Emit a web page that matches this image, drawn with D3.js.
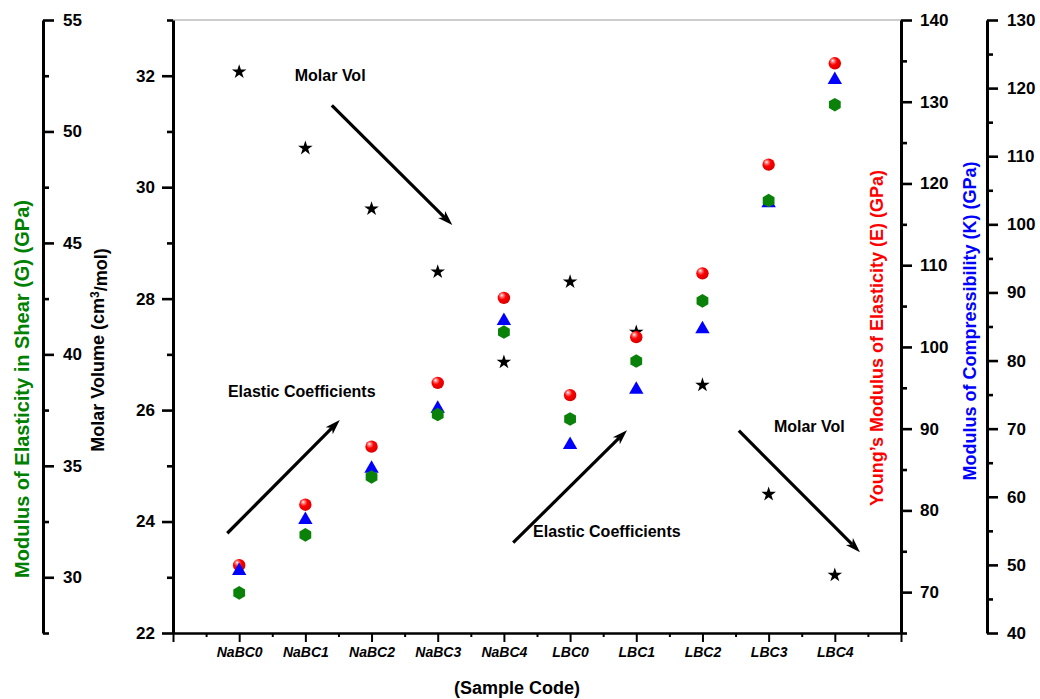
<!DOCTYPE html>
<html>
<head>
<meta charset="utf-8">
<script src="https://cdn.jsdelivr.net/npm/d3@7"></script>
<style>
  body { margin: 0; background: #fff; }
  svg { display: block; font-family: "Liberation Sans", Arial, Helvetica, sans-serif; }
</style>
</head>
<body>
<svg id="chart" width="1040" height="699"></svg>
<script>
// Sample codes along the x axis
const samples = ["NaBC0", "NaBC1", "NaBC2", "NaBC3", "NaBC4", "LBC0", "LBC1", "LBC2", "LBC3", "LBC4"];

// Measured properties per sample
const molarVolume = [32.07, 30.70, 29.61, 28.48, 26.86, 28.30, 27.40, 26.45, 24.49, 23.04]; // cm3/mol
const youngsE     = [73.3, 80.7, 87.8, 95.6, 106.0, 94.1, 101.2, 109.0, 122.3, 134.7];     // GPa
const shearG      = [29.3, 31.9, 34.5, 37.3, 41.0, 37.1, 39.7, 42.4, 46.9, 51.2];          // GPa
const bulkK       = [49.4, 56.9, 64.4, 73.2, 86.1, 67.9, 76.0, 84.9, 103.4, 121.5];        // GPa

// Axis ticks
const molarTicks = [22, 24, 26, 28, 30, 32];
const molarMinor = [23, 25, 27, 29, 31, 33];
const shearTicks = [30, 35, 40, 45, 50, 55];
const shearMinor = [27.5, 32.5, 37.5, 42.5, 47.5, 52.5];
const youngTicks = [70, 80, 90, 100, 110, 120, 130, 140];
const youngMinor = [65, 75, 85, 95, 105, 115, 125, 135];
const bulkTicks  = [40, 50, 60, 70, 80, 90, 100, 110, 120, 130];
const bulkMinor  = [45, 55, 65, 75, 85, 95, 105, 115, 125];

// Trend annotations, in (sample position, molar volume) units
const notes = [
  { text: "Molar Vol", x: 1.84, y: 31.90 },
  { text: "Elastic Coefficients", x: 0.83, y: 26.24 },
  { text: "Elastic Coefficients", x: 5.44, y: 23.72 },
  { text: "Molar Vol", x: 9.08, y: 25.61 }
];
const arrows = [
  { x1: 2.40, y1: 31.47, x2: 4.22, y2: 29.32 },
  { x1: 0.82, y1: 23.79, x2: 2.52, y2: 25.82 },
  { x1: 5.14, y1: 23.62, x2: 6.86, y2: 25.64 },
  { x1: 8.55, y1: 25.63, x2: 10.38, y2: 23.45 }
];

const plot = { left: 173, right: 901, top: 20, bottom: 633 };
const gAxisX = 43, kAxisX = 987;

const svg = d3.select("#chart");

const x = d3.scaleLinear().domain([0, 11]).range([plot.left, plot.right]);
const yMolar = d3.scaleLinear().domain([22, 33]).range([plot.bottom, plot.top]);
const yG = d3.scaleLinear().domain([27.5, 55]).range([plot.bottom, plot.top]);
const yE = d3.scaleLinear().domain([65, 140]).range([plot.bottom, plot.top]);
const yK = d3.scaleLinear().domain([40, 130]).range([plot.bottom, plot.top]);

const defs = svg.append("defs");
const grad = defs.append("radialGradient")
  .attr("id", "sphere").attr("cx", "40%").attr("cy", "38%").attr("r", "62%")
  .attr("fx", "32%").attr("fy", "28%");
grad.append("stop").attr("offset", "0%").attr("stop-color", "#ffffff");
grad.append("stop").attr("offset", "22%").attr("stop-color", "#ff7a7a");
grad.append("stop").attr("offset", "50%").attr("stop-color", "#ff0000");
grad.append("stop").attr("offset", "100%").attr("stop-color", "#d80000");

// top frame line
svg.append("line")
  .attr("x1", plot.left).attr("x2", plot.right)
  .attr("y1", plot.top).attr("y2", plot.top)
  .attr("stroke", "#9a9a9a").attr("stroke-width", 1.2);

function styleAxis(g, width) {
  g.attr("font-family", null).attr("font-size", null);
  g.select(".domain").attr("stroke", "#000").attr("stroke-width", width);
  g.selectAll(".tick line").attr("stroke", "#000").attr("stroke-width", 2.6);
  g.selectAll(".tick text").attr("fill", "#000").attr("font-weight", "bold").attr("font-size", 17);
}

function verticalAxis(axisFn, scale, xPos, major, minor, pad) {
  const gm = svg.append("g").attr("transform", `translate(${xPos},0)`);
  gm.call(axisFn(scale).tickValues(minor).tickSize(6).tickSizeOuter(0).tickFormat(""));
  gm.select(".domain").remove();
  gm.selectAll(".tick line").attr("stroke", "#000").attr("stroke-width", 2.6);
  const g = svg.append("g").attr("transform", `translate(${xPos},0)`);
  g.call(axisFn(scale).tickValues(major).tickSize(11).tickSizeOuter(0).tickPadding(pad).tickFormat(d3.format("d")));
  styleAxis(g, 3);
  return g;
}

verticalAxis(d3.axisRight, yG, gAxisX, shearTicks, shearMinor, 9);
verticalAxis(d3.axisLeft, yMolar, plot.left, molarTicks, molarMinor, 7);
verticalAxis(d3.axisRight, yE, plot.right, youngTicks, youngMinor, 8);
verticalAxis(d3.axisRight, yK, kAxisX, bulkTicks, bulkMinor, 9);

// x axis
const gxm = svg.append("g").attr("transform", `translate(0,${plot.bottom})`);
gxm.call(d3.axisBottom(x).tickValues(d3.range(0.5, 11, 1)).tickSize(4).tickSizeOuter(0).tickFormat(""));
gxm.select(".domain").remove();
gxm.selectAll(".tick line").attr("stroke", "#000").attr("stroke-width", 2);
const gx = svg.append("g").attr("transform", `translate(0,${plot.bottom})`);
gx.call(d3.axisBottom(x).tickValues(d3.range(0, 12)).tickSize(9).tickSizeOuter(0).tickPadding(5)
  .tickFormat(i => samples[i - 1] || ""));
gx.attr("font-family", null).attr("font-size", null);
gx.select(".domain").attr("stroke", "#000").attr("stroke-width", 2.4);
gx.selectAll(".tick line").attr("stroke", "#000").attr("stroke-width", 2);
gx.selectAll(".tick text").attr("fill", "#000").attr("font-weight", "bold")
  .attr("font-style", "italic").attr("font-size", 14);

// axis titles
svg.append("text")
  .attr("transform", `translate(22,389) rotate(-90)`)
  .attr("text-anchor", "middle").attr("dy", "0.35em")
  .attr("font-weight", "bold").attr("font-size", 20).attr("fill", "#008000")
  .text("Modulus of Elasticity in Shear (G) (GPa)");

const mt = svg.append("text")
  .attr("transform", `translate(98,350) rotate(-90)`)
  .attr("text-anchor", "middle").attr("dy", "0.35em")
  .attr("font-weight", "bold").attr("font-size", 18).attr("fill", "#000");
mt.append("tspan").text("Molar Volume (cm");
mt.append("tspan").attr("dy", "-0.45em").attr("font-size", 12).text("3");
mt.append("tspan").attr("dy", "0.45em").text("/mol)");

svg.append("text")
  .attr("transform", `translate(877,338) rotate(-90)`)
  .attr("text-anchor", "middle").attr("dy", "0.35em")
  .attr("font-weight", "bold").attr("font-size", 18).attr("fill", "#ff0000")
  .text("Young\u2019s Modulus of Elasticity (E) (GPa)");

svg.append("text")
  .attr("transform", `translate(970,321) rotate(-90)`)
  .attr("text-anchor", "middle").attr("dy", "0.35em")
  .attr("font-weight", "bold").attr("font-size", 18).attr("fill", "#0000ff")
  .text("Modulus of Compressibility (K) (GPa)");

svg.append("text")
  .attr("x", 517).attr("y", 694)
  .attr("text-anchor", "middle")
  .attr("font-weight", "bold").attr("font-size", 18).attr("fill", "#000")
  .text("(Sample Code)");

// trend arrows
const head = 15, headW = 5, notch = 4;
arrows.forEach(a => {
  const x1 = x(a.x1), y1 = yMolar(a.y1), x2 = x(a.x2), y2 = yMolar(a.y2);
  const dx = x2 - x1, dy = y2 - y1, len = Math.hypot(dx, dy);
  const ux = dx / len, uy = dy / len, px = -uy, py = ux;
  const bx = x2 - ux * head, by = y2 - uy * head;
  svg.append("line")
    .attr("x1", x1).attr("y1", y1)
    .attr("x2", bx + ux * notch).attr("y2", by + uy * notch)
    .attr("stroke", "#000").attr("stroke-width", 3.2);
  svg.append("path")
    .attr("d", `M${x2},${y2}L${bx + px * headW},${by + py * headW}L${bx + ux * notch},${by + uy * notch}L${bx - px * headW},${by - py * headW}Z`)
    .attr("fill", "#000");
});

svg.selectAll("text.note").data(notes).join("text")
  .attr("class", "note")
  .attr("x", d => x(d.x)).attr("y", d => yMolar(d.y))
  .attr("font-weight", "bold").attr("font-size", 16).attr("fill", "#000")
  .text(d => d.text);

// markers
const idx = d3.range(samples.length);
const star = d3.symbol().type(d3.symbolStar).size(66);

svg.append("g").selectAll("path").data(idx).join("path")
  .attr("transform", i => `translate(${x(i + 1)},${yMolar(molarVolume[i])})`)
  .attr("d", star).attr("fill", "#000");

svg.append("g").selectAll("circle").data(idx).join("circle")
  .attr("cx", i => x(i + 1)).attr("cy", i => yE(youngsE[i]))
  .attr("r", 6.2).attr("fill", "url(#sphere)");

svg.append("g").selectAll("path").data(idx).join("path")
  .attr("transform", i => `translate(${x(i + 1)},${yK(bulkK[i])})`)
  .attr("d", "M0,-6.5L7.2,6L-7.2,6Z").attr("fill", "#0000ff");

const hex = d3.range(6).map(k => {
  const a = Math.PI / 3 * k - Math.PI / 2;
  return [6.8 * Math.cos(a), 6.8 * Math.sin(a)];
});
svg.append("g").selectAll("path").data(idx).join("path")
  .attr("transform", i => `translate(${x(i + 1)},${yG(shearG[i])})`)
  .attr("d", "M" + hex.map(p => p.join(",")).join("L") + "Z").attr("fill", "#0a820a");
</script>
</body>
</html>
